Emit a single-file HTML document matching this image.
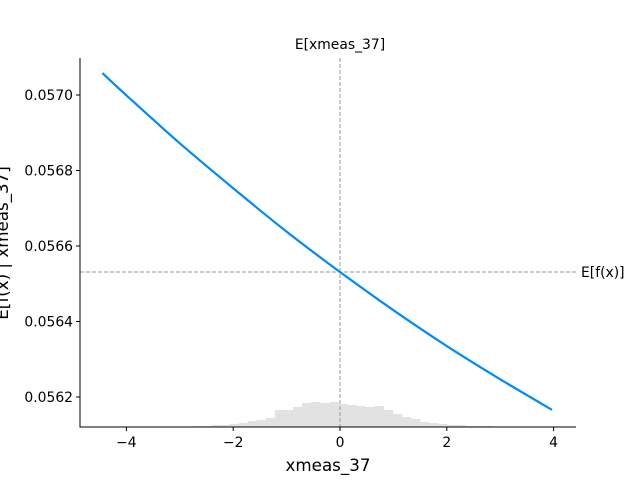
<!DOCTYPE html>
<html><head><meta charset="utf-8"><style>
body{margin:0;background:#fff;font-family:"Liberation Sans","DejaVu Sans",sans-serif}
svg text{font-family:"DejaVu Sans","Liberation Sans",sans-serif}
</style></head><body>
<svg id="c" width="640" height="480"></svg>
<script>
const xs=[-4.45,-4,-3,-2,-1,0,1,2,3,3.97];
const ys=[0.057058,0.056999,0.056872,0.056753,0.056638,0.056531,0.056430,0.056335,0.056247,0.056166];
const histStart=-2.75, histWidth=0.17;
const histCounts=[1,1,2,2,3,4,6,7,9,17,17,20,24,25,24,25,23,22,21,20,21,17,13,10,8,5,4,3,2,2,1,1,1];
const xTicks=[-4,-2,0,2,4];
const yTicks=[0.0562,0.0564,0.0566,0.0568,0.0570];
const expectedValue=0.056531, featureMean=0;
const NS="http://www.w3.org/2000/svg", svg=document.getElementById('c');
const X=v=>340+v*53.4, Y=v=>95+(0.0570-v)/0.0002*75.5, B=427;
function mk(t,a,txt){const e=document.createElementNS(NS,t);for(const k in a)e.setAttribute(k,a[k]);if(txt!=null)e.textContent=txt;svg.appendChild(e);return e;}
histCounts.forEach((c,i)=>{const x0=X(histStart+i*histWidth),x1=X(histStart+(i+1)*histWidth);
const r=mk('rect',{x:x0,y:B-c,width:x1-x0+0.3,height:c,fill:'#e2e2e2'});

});
const vl=mk('line',{x1:X(featureMean),x2:X(featureMean),y1:58,y2:B,stroke:'#999','stroke-dasharray':'4,2','stroke-width':1});

const hl=mk('line',{x1:80,x2:576,y1:Y(expectedValue),y2:Y(expectedValue),stroke:'#999','stroke-dasharray':'4,2','stroke-width':1});

const P=xs.map((x,i)=>[X(x),Y(ys[i])]);
let d='M'+P[0][0]+','+P[0][1];
for(let i=0;i<P.length-1;i++){const p0=P[Math.max(i-1,0)],p1=P[i],p2=P[i+1],p3=P[Math.min(i+2,P.length-1)];
d+=' C'+(p1[0]+(p2[0]-p0[0])/6)+','+(p1[1]+(p2[1]-p0[1])/6)+' '+(p2[0]-(p3[0]-p1[0])/6)+','+(p2[1]-(p3[1]-p1[1])/6)+' '+p2[0]+','+p2[1];}
const p=mk('path',{d:d,fill:'none',stroke:'#008bfb','stroke-width':2.2});

const ax=mk('path',{d:'M80,58V427H576',fill:'none',stroke:'#000','stroke-width':1});

xTicks.forEach(t=>{mk('line',{x1:X(t),x2:X(t),y1:B,y2:B+4,stroke:'#000'});
const e=mk('text',{x:X(t),y:B+20,'text-anchor':'middle','font-size':13.9},t<0?'\u2212'+(-t):String(t));
});
yTicks.forEach(t=>{mk('line',{x1:76,x2:80,y1:Y(t),y2:Y(t),stroke:'#000'});
const e=mk('text',{x:73,y:Y(t)+5,'text-anchor':'end','font-size':13.9},t.toFixed(4));
});
let e=mk('text',{x:328,y:471,'text-anchor':'middle','font-size':16.7},'xmeas_37');

e=mk('text',{x:8,y:243,'text-anchor':'middle','font-size':16.7,transform:'rotate(-90 8 243)'},'E[f(x) | xmeas_37]');

e=mk('text',{x:X(featureMean),y:49,'text-anchor':'middle','font-size':13.9},'E[xmeas_37]');

e=mk('text',{x:581,y:Y(expectedValue)+5,'font-size':13.9},'E[f(x)]');

</script>
</body></html>
